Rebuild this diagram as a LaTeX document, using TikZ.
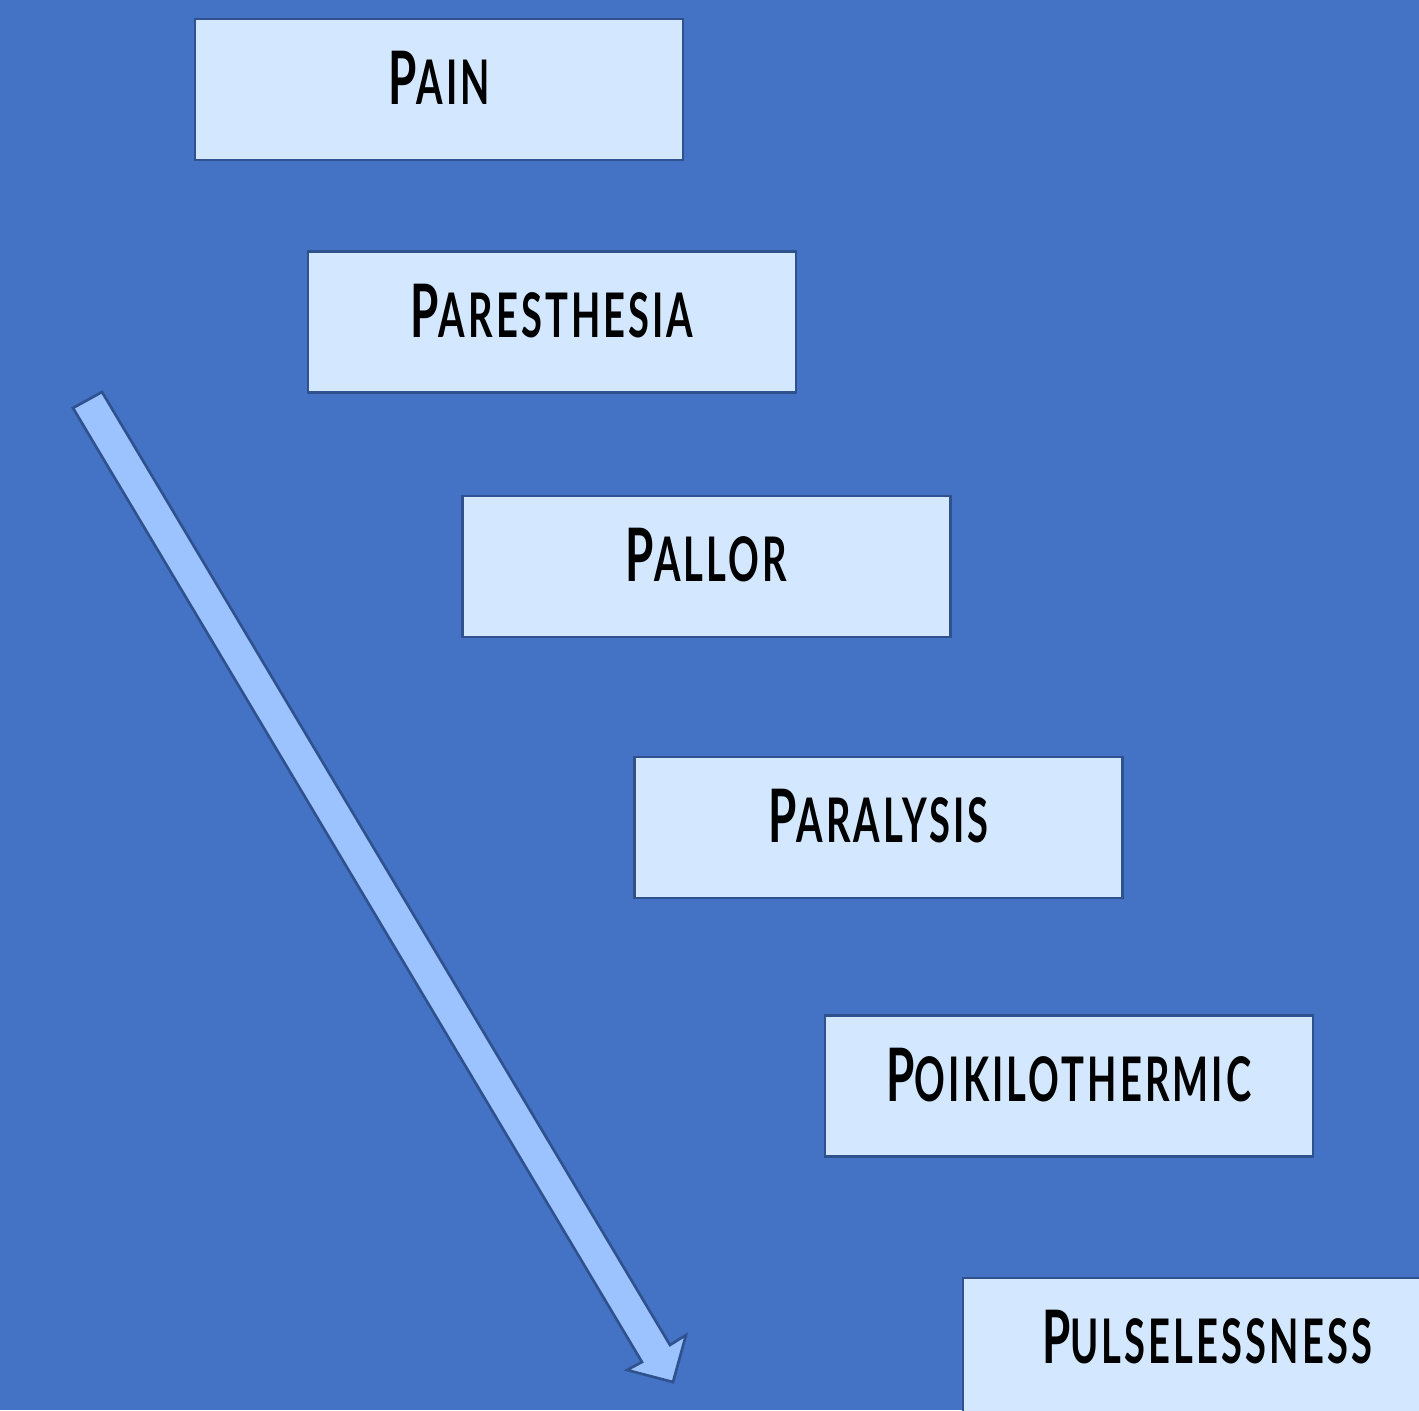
\documentclass[tikz,border=0pt]{standalone}
\usepackage{fontspec}
\setmainfont{Lato}[FakeStretch=0.62,LetterSpace=5]
\usetikzlibrary{calc}
\definecolor{bgblue}{HTML}{4472C4}
\definecolor{boxfill}{HTML}{D3E8FF}
\definecolor{edgeblue}{HTML}{2F528F}
\definecolor{arrowfill}{HTML}{9DC3FF}
\newcommand\capword[2]{{\fontsize{42}{42}\selectfont #1}{\fontsize{35}{35}\selectfont #2}}
\tikzset{
  box/.style={draw=edgeblue, fill=boxfill, line width=1.5pt, minimum width=9.76cm, minimum height=2.82cm, inner sep=0pt},
  lbl/.style={anchor=base, inner sep=0pt, text=black, font=\bfseries},
  bigarrow/.style={draw=edgeblue, fill=arrowfill, line width=1.5pt, line join=miter}
}
\begin{document}
\begin{tikzpicture}[x=0.02cm, y=-0.02cm]
\clip (0,0) rectangle (1419,1410);
\fill[bgblue] (0,0) rectangle (1419,1410);
% arrow
\coordinate (a1) at (73,408);
\coordinate (a2) at (102,392);
\coordinate (a3) at (670,1345);
\coordinate (a4) at (686,1335);
\coordinate (a5) at (673,1382);
\coordinate (a6) at (627,1370);
\coordinate (a7) at (642,1362);
\draw[bigarrow] (a1) -- (a2) -- (a3) -- (a4) -- (a5) -- (a6) -- (a7) -- cycle;
% boxes
\node[box] (pain) at (439,89.5) {};
\node[box] (pares) at (552,322) {};
\node[box] (pallor) at (706.5,566.5) {};
\node[box] (paral) at (878.5,827.5) {};
\node[box] (poik) at (1069,1086) {};
\node[box] (pulse) at (1207,1348.5) {};
% labels
\node[lbl] (painT) at ($(pain.north)+(0,87)$) {\capword{P}{AIN}};
\node[lbl] (paresT) at ($(pares.north)+(0,87)$) {\capword{P}{ARESTHESIA}};
\node[lbl] (pallorT) at ($(pallor.north)+(0,87)$) {\capword{P}{ALLOR}};
\node[lbl] (paralT) at ($(paral.north)+(0,87)$) {\capword{P}{ARALYSIS}};
\node[lbl] (poikT) at ($(poik.north)+(0,87)$) {\capword{P}{OIKILOTHERMIC}};
\node[lbl] (pulseT) at ($(pulse.north)+(0,87)$) {\capword{P}{ULSELESSNESS}};
\end{tikzpicture}
\end{document}
